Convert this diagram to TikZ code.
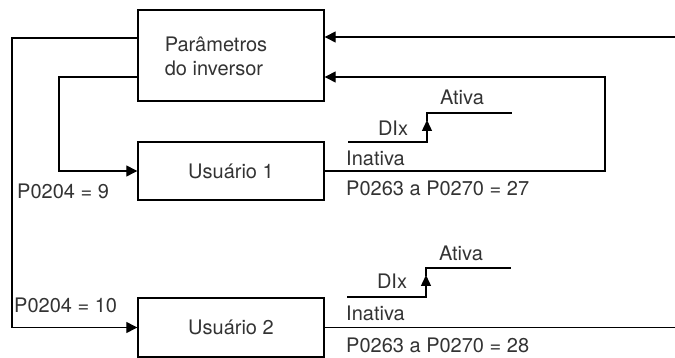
\documentclass[tikz,border=0pt]{standalone}
\usepackage{fontspec}
\setmainfont{TeX Gyre Heros}
\usetikzlibrary{arrows.meta}
\begin{document}
\begin{tikzpicture}[x=1pt,y=-1pt,
  box/.style={draw,line width=1.4pt,inner sep=0pt,font=\fontsize{20}{24}\selectfont,text=black!80},
  conn/.style={line width=1.3pt},
  arr/.style={conn,-{Triangle[length=11pt,width=11pt]}},
  lbl/.style={inner sep=0pt,font=\fontsize{20}{24}\selectfont,text=black!80},
  low/.style={line width=2.6pt},
  high/.style={line width=1.4pt}]
\useasboundingbox (0,0) rectangle (675,358);
\node[box,minimum width=186pt,minimum height=91pt] (par) at (231,55.5) {};
\node[lbl,align=left] (partext) at (216,56) {Parâmetros\\do inversor};
\node[box,minimum width=186pt,minimum height=58pt] (u1) at (231,171) {Usuário 1};
\node[box,minimum width=186pt,minimum height=59pt] (u2) at (231,327.5) {Usuário 2};
\coordinate (rt) at (675,37);
\coordinate (rb) at (675,327.5);
\coordinate (lx) at (12,0);
\coordinate (mx) at (59,0);
\coordinate (fx) at (605,0);
% left connectors
\draw[arr] ([yshift=17.5pt]par.west) -| (lx |- u2.west) -- (u2.west);
\draw[arr] ([yshift=-21.5pt]par.west) -| (mx |- u1.west) -- (u1.west);
% right connectors
\draw[arr] (rt) -- (rt -| par.east);
\draw[arr] (u1.east) -| (fx |- 0,77) -- ([yshift=-21.5pt]par.east);
\draw[conn] (u2.east) -- (rb);
% signal 1
\coordinate (s1a) at (348,142);
\coordinate (s1b) at (427,142);
\coordinate (s1c) at (427,113);
\coordinate (s1d) at (512,113);
\draw[low] (s1a) -- ([xshift=0.7pt]s1b);
\draw[high,-{Triangle[length=11pt,width=10pt]}] (s1b) -- (427,120);
\draw[high] (427,121) -- (s1c) -- (s1d);
\node[lbl] (a1) at (462,97) {Ativa};
\node[lbl] (d1) at (393,128) {DIx};
\node[lbl,anchor=west] (i1) at (346,158) {Inativa};
\node[lbl,anchor=west] (p1) at (346,188) {P0263 a P0270 = 27};
% signal 2
\coordinate (s2a) at (347,297);
\coordinate (s2b) at (426,297);
\coordinate (s2c) at (426,268);
\coordinate (s2d) at (511,268);
\draw[low] (s2a) -- ([xshift=0.7pt]s2b);
\draw[high,-{Triangle[length=11pt,width=10pt]}] (s2b) -- (426,275);
\draw[high] (426,276) -- (s2c) -- (s2d);
\node[lbl] (a2) at (461,253) {Ativa};
\node[lbl] (d2) at (392,281) {DIx};
\node[lbl,anchor=west] (i2) at (346,313) {Inativa};
\node[lbl,anchor=west] (p2) at (346,345) {P0263 a P0270 = 28};
% left labels
\node[lbl,anchor=west] (q1) at (17,191) {P0204 = 9};
\node[lbl,anchor=west] (q2) at (14,305) {P0204 = 10};
\end{tikzpicture}
\end{document}
